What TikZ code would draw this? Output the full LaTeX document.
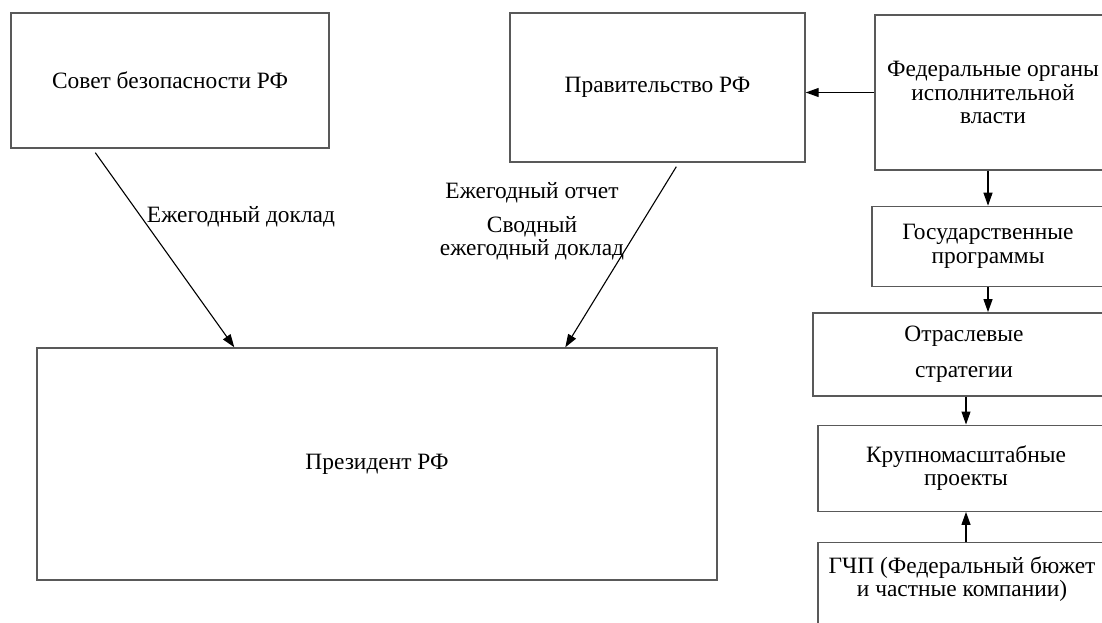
\documentclass[tikz,border=0pt]{standalone}
\usepackage{fontspec}
\setmainfont{Liberation Serif}
\usetikzlibrary{arrows.meta, positioning}

\begin{document}
\begin{tikzpicture}[x=1pt, y=-1pt,
  every node/.style={font=\fontsize{23.4}{23.5}\selectfont},
  orgbox/.style={rectangle, draw=black!65, line width=1.4pt, inner sep=0pt, align=center},
  link/.style={-{Triangle[length=13pt,width=9pt]}, line width=1.1pt}]
  \clip (0,0) rectangle (1102,622);

  % Left part
  \node (sovet) [orgbox, minimum width=318pt, minimum height=135pt] at (170,80.5) {Совет безопасности РФ};
  \node (prav) [orgbox, minimum width=295pt, minimum height=149pt] at (657.5,87.5) {Правительство РФ};
  \node (president) [orgbox, minimum width=680pt, minimum height=232pt] at (377,464) {Президент РФ};

  % Labels
  \node (lbl1) at (241,217) {Ежегодный доклад};
  \node (lbl2) at (532,193) {Ежегодный отчет};
  \node (lbl3) [align=center] at (532,238) {Сводный\\ежегодный доклад};

  % Right column
  \node (fed) [orgbox, minimum width=236pt, minimum height=155pt] at (993,92.5) {Федеральные органы\\исполнительной\\власти};
  \node (gos) [orgbox, minimum width=232pt, minimum height=80pt, below=35pt of fed, xshift=-5pt] {Государственные\\программы};
  \node (otrasl) [orgbox, minimum width=302pt, minimum height=83pt, below=25pt of gos, xshift=-24pt] {Отраслевые\\[13pt]стратегии};
  \node (krupno) [orgbox, minimum width=296pt, minimum height=86pt, below=28pt of otrasl, xshift=2pt] {Крупномасштабные\\проекты};
  \node (gchp) [orgbox, minimum width=288pt, inner ysep=14pt, text depth=90pt, below=30pt of krupno, xshift=-4pt] {ГЧП (Федеральный бюжет\\и частные компании)};

  % Reports to the president
  \draw[link] ([xshift=85pt, yshift=-4pt]sovet.south west) -- ([xshift=198pt]president.north west);
  \draw[link] ([xshift=167pt, yshift=-4pt]prav.south west) -- ([xshift=529pt]president.north west);

  % Right column links
  \draw[link] (fed.west) -- (fed.west -| prav.east);
  \draw[link] (fed.south -| gos.north) -- (gos.north);
  \draw[link] (gos.south) -- (gos.south |- otrasl.north);
  \draw[link] (otrasl.south -| krupno.north) -- (krupno.north);
  \draw[link] (gchp.north -| krupno.south) -- (krupno.south);
\end{tikzpicture}
\end{document}
